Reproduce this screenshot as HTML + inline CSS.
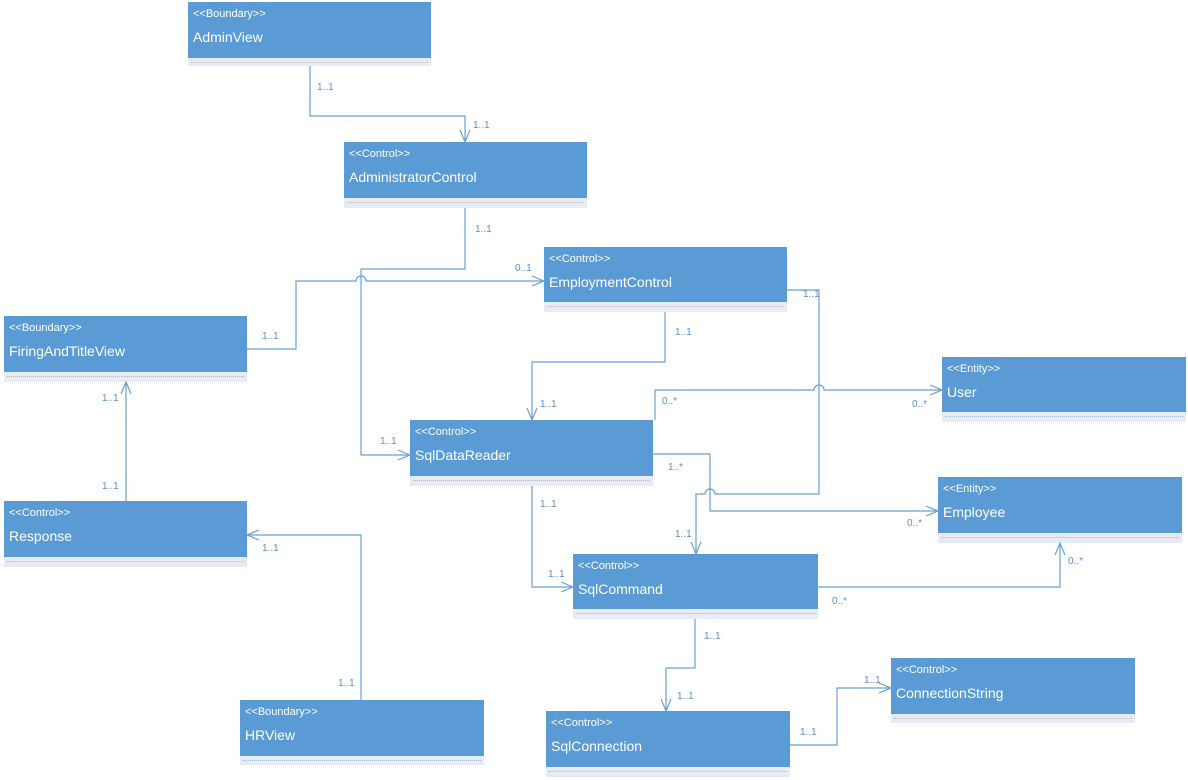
<!DOCTYPE html>
<html><head><meta charset="utf-8"><style>
body{margin:0;width:1188px;height:780px;background:#fff;overflow:hidden;position:relative;font-family:"Liberation Sans",sans-serif}
.b{position:absolute;background:#5b9bd5;color:#fff}
.b .s{position:absolute;left:5px;top:6px;font-size:11px}
.b .n{position:absolute;left:5px;top:27px;font-size:14px}
.st{position:absolute;background:#e8ecf2;border-bottom:0}
.st:after{content:"";position:absolute;left:3px;right:3px;top:4px;border-top:1px dotted #9db8d8}
svg{position:absolute;left:0;top:0}
svg text{font-family:"Liberation Sans",sans-serif;font-size:10px;fill:#5b8ec7}
</style></head><body>
<div class="b" style="left:188px;top:2px;width:243px;height:56px"><span class="s">&lt;&lt;Boundary&gt;&gt;</span><span class="n">AdminView</span></div><div class="st" style="left:188px;top:58px;width:243px;height:8px"></div>
<div class="b" style="left:344px;top:142px;width:243px;height:56px"><span class="s">&lt;&lt;Control&gt;&gt;</span><span class="n">AdministratorControl</span></div><div class="st" style="left:344px;top:198px;width:243px;height:10px"></div>
<div class="b" style="left:544px;top:247px;width:243px;height:55px"><span class="s">&lt;&lt;Control&gt;&gt;</span><span class="n">EmploymentControl</span></div><div class="st" style="left:544px;top:302px;width:243px;height:10px"></div>
<div class="b" style="left:4px;top:316px;width:243px;height:56px"><span class="s">&lt;&lt;Boundary&gt;&gt;</span><span class="n">FiringAndTitleView</span></div><div class="st" style="left:4px;top:372px;width:243px;height:10px"></div>
<div class="b" style="left:942px;top:357px;width:244px;height:55px"><span class="s">&lt;&lt;Entity&gt;&gt;</span><span class="n">User</span></div><div class="st" style="left:942px;top:412px;width:244px;height:10px"></div>
<div class="b" style="left:410px;top:420px;width:243px;height:56px"><span class="s">&lt;&lt;Control&gt;&gt;</span><span class="n">SqlDataReader</span></div><div class="st" style="left:410px;top:476px;width:243px;height:10px"></div>
<div class="b" style="left:938px;top:477px;width:244px;height:56px"><span class="s">&lt;&lt;Entity&gt;&gt;</span><span class="n">Employee</span></div><div class="st" style="left:938px;top:533px;width:244px;height:10px"></div>
<div class="b" style="left:4px;top:501px;width:243px;height:56px"><span class="s">&lt;&lt;Control&gt;&gt;</span><span class="n">Response</span></div><div class="st" style="left:4px;top:557px;width:243px;height:10px"></div>
<div class="b" style="left:573px;top:554px;width:245px;height:55px"><span class="s">&lt;&lt;Control&gt;&gt;</span><span class="n">SqlCommand</span></div><div class="st" style="left:573px;top:609px;width:245px;height:10px"></div>
<div class="b" style="left:891px;top:658px;width:244px;height:56px"><span class="s">&lt;&lt;Control&gt;&gt;</span><span class="n">ConnectionString</span></div><div class="st" style="left:891px;top:714px;width:244px;height:9px"></div>
<div class="b" style="left:240px;top:700px;width:244px;height:56px"><span class="s">&lt;&lt;Boundary&gt;&gt;</span><span class="n">HRView</span></div><div class="st" style="left:240px;top:756px;width:244px;height:9px"></div>
<div class="b" style="left:546px;top:711px;width:244px;height:56px"><span class="s">&lt;&lt;Control&gt;&gt;</span><span class="n">SqlConnection</span></div><div class="st" style="left:546px;top:767px;width:244px;height:10px"></div>
<svg width="1188" height="780" fill="none" stroke="#6a9fd6" stroke-width="1.2">
<path d="M310 66V116H465V142M460 130L465 142L470 130"/>
<path d="M465 208V269H361V455H410M398 450L410 455L398 460"/>
<path d="M247 349H296V281H356a5 5 0 0 1 10 0H544M532 276L544 281L532 286"/>
<path d="M665 312V362H532V420M527 408L532 420L537 408"/>
<path d="M787 290H819V494H715a5 5 0 0 0-10 0H696V554M691 542L696 554L701 542"/>
<path d="M655 420V390H814a5 5 0 0 1 10 0H942M930 385L942 390L930 395"/>
<path d="M653 454H710V511H938M926 506L938 511L926 516"/>
<path d="M532 486V587H573M561 582L573 587L561 592"/>
<path d="M818 587H1060V543M1055 555L1060 543L1065 555"/>
<path d="M126 501V382M121 394L126 382L131 394"/>
<path d="M361 700V535H247M259 530L247 535L259 540"/>
<path d="M695 619V668H666V711M661 699L666 711L671 699"/>
<path d="M790 745H837V688H891M879 683L891 688L879 693"/>
</svg>
<svg width="1188" height="780">
<text x="317" y="90">1..1</text><text x="473" y="128">1..1</text>
<text x="475" y="232">1..1</text><text x="380" y="444">1..1</text>
<text x="262" y="339">1..1</text><text x="515" y="271">0..1</text>
<text x="675" y="335">1..1</text><text x="540" y="407">1..1</text>
<text x="803" y="297">1..1</text><text x="675" y="537">1..1</text>
<text x="662" y="404">0..*</text><text x="912" y="407">0..*</text>
<text x="668" y="470">1..*</text><text x="907" y="526">0..*</text>
<text x="540" y="507">1..1</text><text x="548" y="577">1..1</text>
<text x="832" y="604">0..*</text><text x="1068" y="564">0..*</text>
<text x="102" y="401">1..1</text><text x="102" y="489">1..1</text>
<text x="338" y="686">1..1</text><text x="262" y="551">1..1</text>
<text x="704" y="639">1..1</text><text x="677" y="699">1..1</text>
<text x="800" y="735">1..1</text><text x="864" y="683">1..1</text>
</svg>
</body></html>
